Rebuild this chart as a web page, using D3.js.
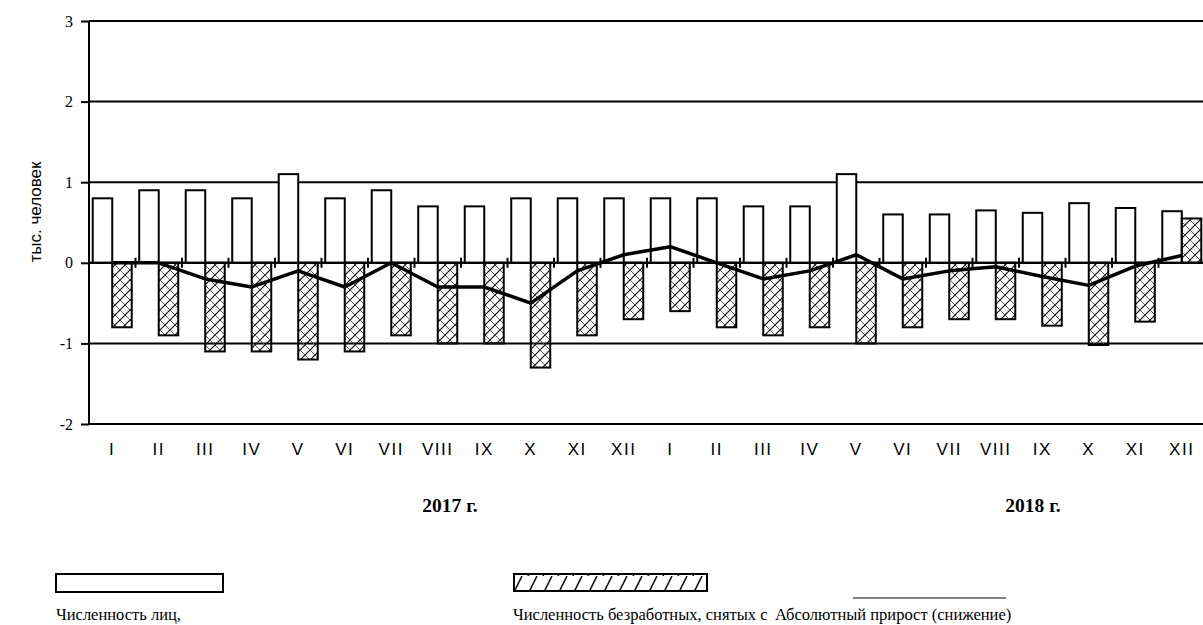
<!DOCTYPE html>
<html>
<head>
<meta charset="utf-8">
<script src="https://cdn.jsdelivr.net/npm/d3@7"></script>
<style>
  body { margin: 0; background: #fff; }
  svg { display: block; }
</style>
</head>
<body>
<svg id="chart" width="1203" height="625"></svg>
<script>
// months, two years
var months = ["I","II","III","IV","V","VI","VII","VIII","IX","X","XI","XII",
              "I","II","III","IV","V","VI","VII","VIII","IX","X","XI","XII"];
var yearLabels = ["2017 г.", "2018 г."];
// численность лиц (white bars)
var registered = [0.8,0.9,0.9,0.8,1.1,0.8,0.9,0.7,0.7,0.8,0.8,0.8,
                  0.8,0.8,0.7,0.7,1.1,0.6,0.6,0.65,0.62,0.74,0.68,0.64];
var removed = [-0.8,-0.9,-1.1,-1.1,-1.2,-1.1,-0.9,-1.0,-1.0,-1.3,-0.9,-0.7,
               -0.6,-0.8,-0.9,-0.8,-1.0,-0.8,-0.7,-0.7,-0.78,-1.02,-0.73,0.55];
// абсолютный прирост (снижение)
var growth = [0,0,-0.2,-0.3,-0.1,-0.3,0,-0.3,-0.3,-0.5,-0.1,0.1,
              0.2,0,-0.2,-0.1,0.1,-0.2,-0.1,-0.05,-0.17,-0.28,-0.04,0.09];
var yTicks = [-2,-1,0,1,2,3];
var legendLabels = ["Численность лиц,", "Численность безработных, снятых с", "Абсолютный прирост (снижение)"];

var serif = "'Liberation Serif', 'Times New Roman', serif";
var sans = "'Liberation Sans', Arial, sans-serif";

var svg = d3.select("#chart");
var plotL = 89, plotR = 1205, plotT = 21, plotB = 424;

var idx = d3.range(months.length);
var x0 = d3.scaleBand().domain(idx).range([plotL, plotR]).paddingInner(0.161).paddingOuter(0.08);
var x1 = d3.scaleBand().domain(["a","b"]).range([0, x0.bandwidth()]);
var xb = d3.scaleLinear().domain([0, months.length]).range([plotL, plotR]);
var y = d3.scaleLinear().domain([-2, 3]).range([plotB, plotT]);

// hatch patterns
var defs = svg.append("defs");
var p = defs.append("pattern").attr("id","cross").attr("patternUnits","userSpaceOnUse")
  .attr("width",10).attr("height",10);
p.append("path").attr("d","M0,10 L10,0").attr("stroke","#111").attr("stroke-width",1.2);
p.append("path").attr("d","M0,0 L10,10").attr("stroke","#555").attr("stroke-width",1);
var p2 = defs.append("pattern").attr("id","diag").attr("patternUnits","userSpaceOnUse")
  .attr("width",15).attr("height",18);
p2.append("path").attr("d","M3,18 L12,0").attr("stroke","#111").attr("stroke-width",1.6);

// gridlines + y axis
var yAxis = d3.axisLeft(y).tickValues(yTicks).tickSize(8).tickFormat(function(d){ return String(d); });
var gy = svg.append("g").attr("transform","translate(" + plotL + ",0)").call(yAxis)
  .attr("font-family", serif).attr("font-size", 16);
gy.select(".domain").remove();
gy.selectAll(".tick line").attr("stroke","#000").attr("stroke-width",2);
gy.selectAll(".tick text").attr("x",-16).attr("fill","#000");
svg.append("g").selectAll("line").data(yTicks).join("line")
  .attr("x1", plotL).attr("x2", 1203)
  .attr("y1", function(d){ return y(d); }).attr("y2", function(d){ return y(d); })
  .attr("stroke","#000").attr("stroke-width",2);
svg.append("line").attr("x1",plotL).attr("x2",plotL).attr("y1",y(3)).attr("y2",y(-2))
  .attr("stroke","#000").attr("stroke-width",2);

// bars
var g = svg.append("g");
g.selectAll("rect.pos").data(idx).join("rect").attr("class","pos")
  .attr("x", function(i){ return x0(i) + x1("a"); })
  .attr("width", x1.bandwidth())
  .attr("y", function(i){ return y(Math.max(0, registered[i])); })
  .attr("height", function(i){ return Math.abs(y(registered[i]) - y(0)); })
  .attr("fill","#fff").attr("stroke","#000").attr("stroke-width",2);
g.selectAll("rect.neg").data(idx).join("rect").attr("class","neg")
  .attr("x", function(i){ return x0(i) + x1("b"); })
  .attr("width", x1.bandwidth())
  .attr("y", function(i){ return y(Math.max(0, removed[i])); })
  .attr("height", function(i){ return Math.abs(y(removed[i]) - y(0)); })
  .attr("fill","url(#cross)").attr("stroke","#000").attr("stroke-width",2);

// zero line on top + category ticks
svg.append("line").attr("x1",plotL).attr("x2",1203).attr("y1",y(0)).attr("y2",y(0))
  .attr("stroke","#000").attr("stroke-width",2);
svg.append("g").selectAll("line").data(d3.range(1, months.length + 1)).join("line")
  .attr("x1", function(i){ return xb(i); }).attr("x2", function(i){ return xb(i); })
  .attr("y1", y(0) - 5).attr("y2", y(0) + 5)
  .attr("stroke","#000").attr("stroke-width",2);

// growth line
var line = d3.line().x(function(d, i){ return x0(i) + x0.bandwidth() / 2; }).y(function(d){ return y(d); });
svg.append("path").datum(growth).attr("d", line)
  .attr("fill","none").attr("stroke","#000").attr("stroke-width",3.5).attr("stroke-linejoin","round");

// month labels
svg.append("g").selectAll("text").data(idx).join("text")
  .attr("x", function(i){ return x0(i) + x0.bandwidth() / 2; })
  .attr("y", 455)
  .attr("text-anchor","middle")
  .attr("font-family", sans)
  .attr("font-size",17).attr("letter-spacing","1.5px")
  .text(function(i){ return months[i]; });

// year labels
svg.append("g").selectAll("text").data(yearLabels).join("text")
  .attr("x", function(d, i){ return [450, 1033][i]; })
  .attr("y", 512)
  .attr("text-anchor","middle")
  .attr("font-family", serif)
  .attr("font-weight","bold").attr("font-size",19.5)
  .text(function(d){ return d; });

// y title
svg.append("text")
  .attr("transform","translate(41,212) rotate(-90)")
  .attr("text-anchor","middle")
  .attr("font-family", sans)
  .attr("font-size",17)
  .text("тыс. человек");

// legend
svg.append("rect").attr("x",56).attr("y",574).attr("width",167).attr("height",18)
  .attr("fill","#fff").attr("stroke","#000").attr("stroke-width",2);
svg.append("rect").attr("x",514).attr("y",574).attr("width",193).attr("height",17)
  .attr("fill","url(#diag)").attr("stroke","#000").attr("stroke-width",2);
svg.append("line").attr("x1",853).attr("x2",1006).attr("y1",598).attr("y2",598)
  .attr("stroke","#000").attr("stroke-width",1.2);
svg.append("g").selectAll("text").data(legendLabels).join("text")
  .attr("x", function(d, i){ return [56, 513, 775][i]; })
  .attr("y", 620)
  .attr("font-family", serif)
  .attr("font-size",16.5)
  .text(function(d){ return d; });
</script>
</body>
</html>
